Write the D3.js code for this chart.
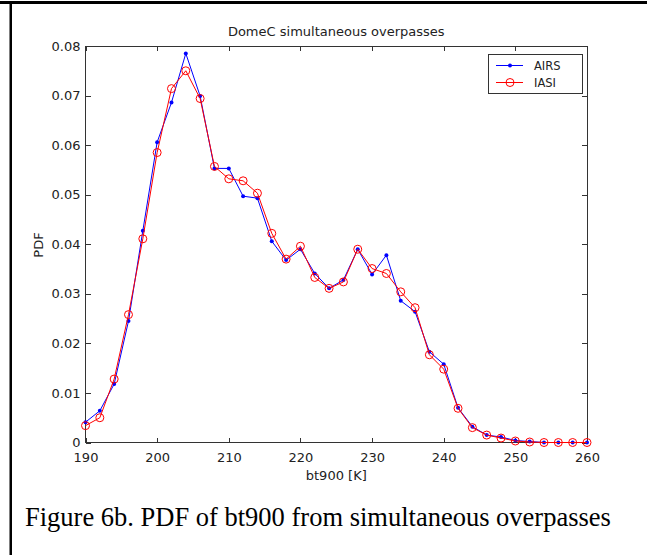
<!DOCTYPE html>
<html>
<head>
<meta charset="utf-8">
<script src="https://cdn.jsdelivr.net/npm/d3@7"></script>
<style>
  html, body { margin: 0; padding: 0; background: #fff; }
  svg { display: block; }
  .tick text { font-family: "DejaVu Sans", sans-serif; font-size: 13px; fill: #222; }
</style>
</head>
<body>
<svg id="chart" width="647" height="555"></svg>
<script>
// Brightness temperature bins (K)
const bt = [190,192,194,196,198,200,202,204,206,208,210,212,214,216,218,220,222,224,226,228,
            230,232,234,236,238,240,242,244,246,248,250,252,254,256,258,260];
// PDF values per instrument
const airs = [0.0041,0.0064,0.0118,0.0245,0.0427,0.0606,0.0686,0.0785,0.0699,0.0553,0.0553,0.0497,
              0.0493,0.0406,0.0368,0.0390,0.0341,0.0311,0.0328,0.0390,0.0339,0.0378,0.0286,0.0264,
              0.0183,0.0158,0.0070,0.0032,0.0015,0.0011,0.0004,0.0002,0,0,0,0];
const iasi = [0.0034,0.0050,0.0128,0.0258,0.0411,0.0585,0.0714,0.0750,0.0694,0.0557,0.0532,0.0528,
              0.0503,0.0422,0.0370,0.0396,0.0333,0.0311,0.0324,0.0390,0.0351,0.0341,0.0304,0.0272,
              0.0177,0.0148,0.0069,0.0030,0.0015,0.0009,0.0003,0.0001,0,0,0,0];
const xTickValues = [190,200,210,220,230,240,250,260];
const yTickValues = [0,0.01,0.02,0.03,0.04,0.05,0.06,0.07,0.08];
const yTickLabels = ["0","0.01","0.02","0.03","0.04","0.05","0.06","0.07","0.08"];
const seriesNames = ["AIRS","IASI"];
const seriesColors = ["#0000ff","#ff0000"];

const svg = d3.select("#chart");
const W = 647, H = 555;
const plot = {left: 85.5, right: 587, top: 46, bottom: 442.5};

// page frame rules
svg.append("rect").attr("x", 0).attr("y", 1).attr("width", W).attr("height", 3).attr("fill", "#000");
svg.append("rect").attr("x", 9.5).attr("y", 1).attr("width", 2.5).attr("height", H).attr("fill", "#000");

const x = d3.scaleLinear().domain([190, 260]).range([plot.left, plot.right]);
const y = d3.scaleLinear().domain([0, 0.08]).range([plot.bottom, plot.top]);

const tickLen = 5;
const axisColor = "#333";

// bottom axis with labels
const gx = svg.append("g").attr("transform", `translate(0,${plot.bottom})`)
  .call(d3.axisBottom(x).tickValues(xTickValues).tickSize(-tickLen).tickPadding(8).tickFormat(d3.format("d")));
// top axis ticks only
const gxt = svg.append("g").attr("transform", `translate(0,${plot.top})`)
  .call(d3.axisTop(x).tickValues(xTickValues).tickSize(-tickLen).tickFormat(""));
// left axis with labels
const gy = svg.append("g").attr("transform", `translate(${plot.left},0)`)
  .call(d3.axisLeft(y).tickValues(yTickValues).tickSize(-tickLen).tickPadding(5)
        .tickFormat((d, i) => yTickLabels[i]));
// right axis ticks only
const gyr = svg.append("g").attr("transform", `translate(${plot.right},0)`)
  .call(d3.axisRight(y).tickValues(yTickValues).tickSize(-tickLen).tickFormat(""));

[gx, gxt, gy, gyr].forEach(g => {
  g.select(".domain").remove();
  g.selectAll(".tick line").attr("stroke", axisColor).attr("shape-rendering", "crispEdges");
});
gx.selectAll(".tick text").attr("dy", "0.9em");

// plot box
svg.append("rect")
  .attr("x", plot.left).attr("y", plot.top)
  .attr("width", plot.right - plot.left).attr("height", plot.bottom - plot.top)
  .attr("fill", "none").attr("stroke", axisColor).attr("stroke-width", 1)
  .attr("shape-rendering", "crispEdges");

// series
const line = d3.line().x(d => x(d[0])).y(d => y(d[1]));
const airsPts = bt.map((b, i) => [b, airs[i]]);
const iasiPts = bt.map((b, i) => [b, iasi[i]]);

svg.append("path").datum(airsPts).attr("d", line)
  .attr("fill", "none").attr("stroke", seriesColors[0]).attr("stroke-width", 1);
svg.append("g").selectAll("circle").data(airsPts).join("circle")
  .attr("cx", d => x(d[0])).attr("cy", d => y(d[1])).attr("r", 2)
  .attr("fill", seriesColors[0]);

svg.append("path").datum(iasiPts).attr("d", line)
  .attr("fill", "none").attr("stroke", seriesColors[1]).attr("stroke-width", 1);
svg.append("g").selectAll("circle").data(iasiPts).join("circle")
  .attr("cx", d => x(d[0])).attr("cy", d => y(d[1])).attr("r", 4)
  .attr("fill", "none").attr("stroke", seriesColors[1]).attr("stroke-width", 1);

// title and axis labels
svg.append("text").attr("x", (plot.left + plot.right) / 2).attr("y", 36)
  .attr("text-anchor", "middle").attr("font-family", "DejaVu Sans, sans-serif")
  .attr("font-size", 13).attr("fill", "#222").text("DomeC simultaneous overpasses");
svg.append("text").attr("x", (plot.left + plot.right) / 2).attr("y", 480)
  .attr("text-anchor", "middle").attr("font-family", "DejaVu Sans, sans-serif")
  .attr("font-size", 13).attr("fill", "#222").text("bt900 [K]");
svg.append("text").attr("transform", "translate(43,245) rotate(-90)")
  .attr("text-anchor", "middle").attr("font-family", "DejaVu Sans, sans-serif")
  .attr("font-size", 13).attr("fill", "#222").text("PDF");

// legend
const leg = svg.append("g");
leg.append("rect").attr("x", 488).attr("y", 54).attr("width", 94).attr("height", 39)
  .attr("fill", "#fff").attr("stroke", axisColor).attr("stroke-width", 1)
  .attr("shape-rendering", "crispEdges");
const legY = [65.5, 82.5];
seriesNames.forEach((name, i) => {
  leg.append("line").attr("x1", 496).attr("x2", 523).attr("y1", legY[i]).attr("y2", legY[i])
    .attr("stroke", seriesColors[i]).attr("stroke-width", 1);
  if (i === 0) {
    leg.append("circle").attr("cx", 510).attr("cy", legY[i]).attr("r", 2).attr("fill", seriesColors[i]);
  } else {
    leg.append("circle").attr("cx", 510).attr("cy", legY[i]).attr("r", 4)
      .attr("fill", "none").attr("stroke", seriesColors[i]);
  }
  leg.append("text").attr("x", 534).attr("y", legY[i] + 4.5)
    .attr("font-family", "DejaVu Sans, sans-serif").attr("font-size", 11.5).attr("fill", "#222")
    .text(name);
});

// figure caption
svg.append("text").attr("x", 25).attr("y", 526)
  .attr("font-family", "Liberation Serif, Times New Roman, serif").attr("font-size", 26.5)
  .attr("fill", "#000").text("Figure 6b. PDF of bt900 from simultaneous overpasses");
</script>
</body>
</html>
